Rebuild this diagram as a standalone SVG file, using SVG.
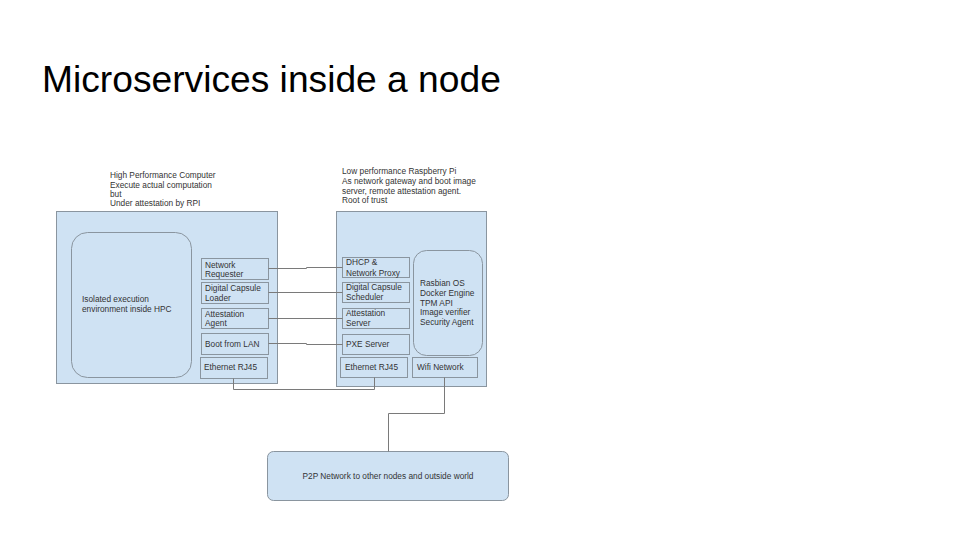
<svg xmlns="http://www.w3.org/2000/svg" width="960" height="540" viewBox="0 0 960 540">
  <style>
    .box { fill: #cfe2f3; stroke: #8a959f; stroke-width: 1; }
    .t { font-family: "Liberation Sans", Arial, sans-serif; font-size: 8.3px; fill: #333333; }
    .title { font-family: "Liberation Sans", Arial, sans-serif; font-size: 37.2px; fill: #000000; }
    .conn { fill: none; stroke: #7a7a7a; stroke-width: 1; }
  </style>
  <rect x="0" y="0" width="960" height="540" fill="#ffffff"/>

  <text class="title" x="42" y="92">Microservices inside a node</text>

  <!-- High Performance Computer -->
  <g id="hpc-caption">
    <text class="t" x="110" y="178">High Performance Computer</text>
    <text class="t" x="110" y="188">Execute actual computation</text>
    <text class="t" x="110" y="197">but</text>
    <text class="t" x="110" y="206">Under attestation by RPI</text>
  </g>
  <g id="hpc">
    <rect class="box" x="56.5" y="211.5" width="221" height="172"/>
  </g>
  <g id="isolated-env">
    <rect class="box" x="71.5" y="232.5" width="120" height="145" rx="16"/>
    <text class="t" x="82" y="302">Isolated execution</text>
    <text class="t" x="82" y="312">environment inside HPC</text>
  </g>
  <g id="network-requester">
    <rect class="box" x="201.5" y="258.5" width="67" height="21"/>
    <text class="t" x="205" y="268">Network</text>
    <text class="t" x="205" y="277">Requester</text>
  </g>
  <g id="capsule-loader">
    <rect class="box" x="201.5" y="282.5" width="67" height="21"/>
    <text class="t" x="205" y="291">Digital Capsule</text>
    <text class="t" x="205" y="301">Loader</text>
  </g>
  <g id="attestation-agent">
    <rect class="box" x="201.5" y="308.5" width="67" height="20"/>
    <text class="t" x="205" y="317">Attestation</text>
    <text class="t" x="205" y="326">Agent</text>
  </g>
  <g id="boot-from-lan">
    <rect class="box" x="201.5" y="333.5" width="67" height="21"/>
    <text class="t" x="205" y="347">Boot from LAN</text>
  </g>
  <g id="hpc-ethernet">
    <rect class="box" x="200.5" y="357.5" width="67" height="21"/>
    <text class="t" x="204" y="370">Ethernet RJ45</text>
  </g>

  <!-- Raspberry Pi -->
  <g id="rpi-caption">
    <text class="t" x="342" y="174">Low performance Raspberry Pi</text>
    <text class="t" x="342" y="184">As network gateway and boot image</text>
    <text class="t" x="342" y="194">server, remote attestation agent.</text>
    <text class="t" x="342" y="203">Root of trust</text>
  </g>
  <g id="rpi">
    <rect class="box" x="336.5" y="211.5" width="150" height="175"/>
  </g>
  <g id="rpi-platform">
    <rect class="box" x="413.5" y="250.5" width="69" height="105" rx="13"/>
    <text class="t" x="420" y="286">Rasbian OS</text>
    <text class="t" x="420" y="296">Docker Engine</text>
    <text class="t" x="420" y="306">TPM API</text>
    <text class="t" x="420" y="315">Image verifier</text>
    <text class="t" x="420" y="325">Security Agent</text>
  </g>
  <g id="dhcp-proxy">
    <rect class="box" x="342.5" y="257.5" width="67" height="20"/>
    <text class="t" x="346" y="265">DHCP &amp;</text>
    <text class="t" x="346" y="276">Network Proxy</text>
  </g>
  <g id="capsule-scheduler">
    <rect class="box" x="342.5" y="282.5" width="67" height="20"/>
    <text class="t" x="346" y="290">Digital Capsule</text>
    <text class="t" x="346" y="300">Scheduler</text>
  </g>
  <g id="attestation-server">
    <rect class="box" x="342.5" y="308.5" width="67" height="20"/>
    <text class="t" x="346" y="316">Attestation</text>
    <text class="t" x="346" y="326">Server</text>
  </g>
  <g id="pxe-server">
    <rect class="box" x="342.5" y="334.5" width="67" height="20"/>
    <text class="t" x="346" y="347">PXE Server</text>
  </g>
  <g id="rpi-ethernet">
    <rect class="box" x="340.5" y="357.5" width="67" height="20"/>
    <text class="t" x="345" y="370">Ethernet RJ45</text>
  </g>
  <g id="wifi">
    <rect class="box" x="412.5" y="357.5" width="65" height="20"/>
    <text class="t" x="417" y="370">Wifi Network</text>
  </g>

  <!-- P2P network -->
  <g id="p2p">
    <rect class="box" x="267.5" y="451.5" width="241" height="49" rx="6"/>
    <text class="t" x="388" y="479" text-anchor="middle">P2P Network to other nodes and outside world</text>
  </g>

  <g id="connectors">
    <polyline class="conn" points="268.5,268.5 306.5,268.5 306.5,267.5 342.5,267.5"/>
    <polyline class="conn" points="268.5,292.5 342.5,292.5"/>
    <polyline class="conn" points="268.5,318.5 342.5,318.5"/>
    <polyline class="conn" points="268.5,343.5 306.5,343.5 306.5,344.5 342.5,344.5"/>
    <polyline class="conn" points="233.5,378.5 233.5,389.5 374.5,389.5 374.5,377.5"/>
    <polyline class="conn" points="444.5,377.5 444.5,413.5 388.5,413.5 388.5,451.5"/>
  </g>
</svg>
